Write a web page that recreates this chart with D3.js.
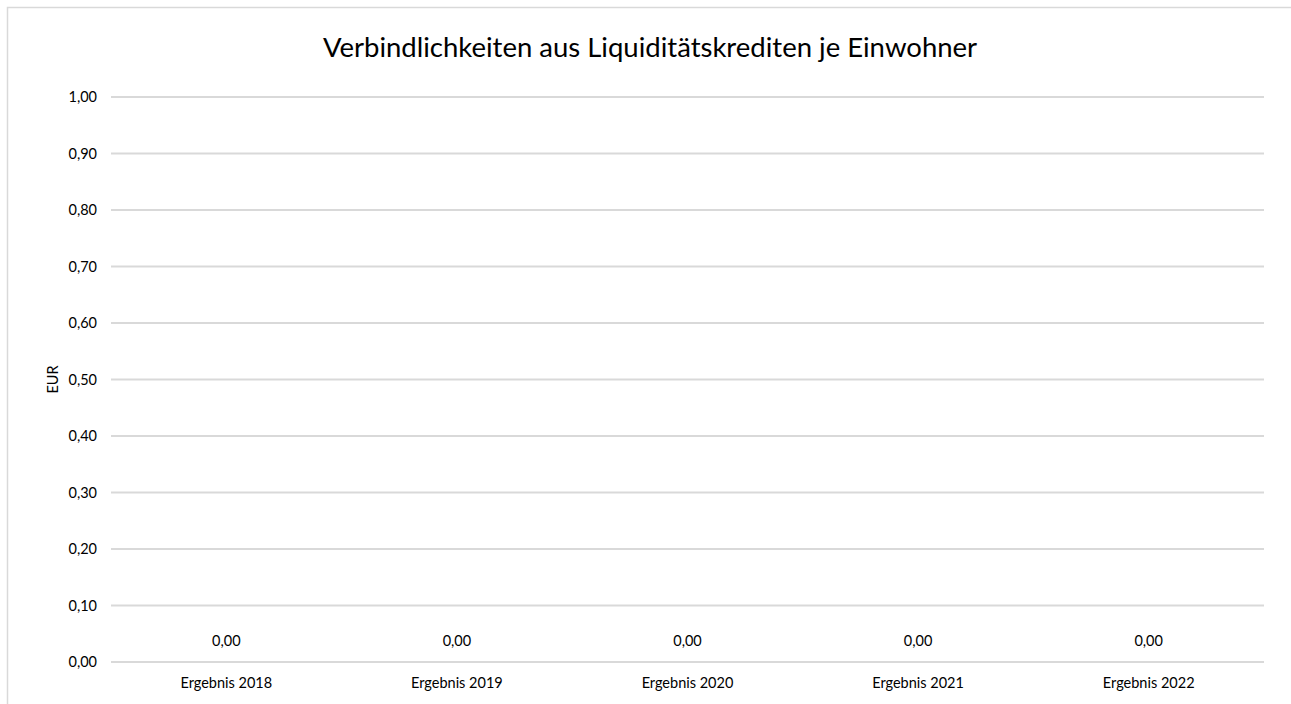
<!DOCTYPE html>
<html lang="de">
<head>
<meta charset="utf-8">
<title>Verbindlichkeiten aus Liquiditätskrediten je Einwohner</title>
<script src="https://d3js.org/d3.v7.min.js"></script>
<style>
    body { margin: 0; background: #fff; }
    svg text { font-family: Lato, "Open Sans", sans-serif; fill: #000; }
    .grid line { stroke: #d9d9d9; stroke-width: 2; }
</style>
</head>
<body>
<script>

// data
const categories = ["Ergebnis 2018", "Ergebnis 2019", "Ergebnis 2020", "Ergebnis 2021", "Ergebnis 2022"];
const values = [0, 0, 0, 0, 0];
const yTicks = [0, 0.1, 0.2, 0.3, 0.4, 0.5, 0.6, 0.7, 0.8, 0.9, 1.0];

const W = 1291, H = 704;
const margin = { top: 97, right: 27, bottom: 42, left: 111 };
const w = W - margin.left - margin.right,
      h = H - margin.top - margin.bottom;

const labelSize = "14.5px";
const fmt = d => d3.format(".2f")(d).replace(".", ",");

let svg = d3.select("body").append("svg")
    .attr("width", W)
    .attr("height", H);

// chart border (runs off the right and bottom edge)
svg.append("rect")
    .attr("x", 7.5).attr("y", 7.5)
    .attr("width", W + 10).attr("height", H + 10)
    .attr("fill", "none")
    .attr("stroke", "#d9d9d9")
    .attr("stroke-width", 1.5);

let g = svg.append("g")
    .attr("transform", "translate(" + margin.left + "," + margin.top + ")");

let xScale = d3.scaleBand()
    .domain(categories)
    .range([0, w]);

let yScale = d3.scaleLinear()
    .domain([0, 1])
    .range([h, 0]);

// gridlines
g.append("g").attr("class", "grid")
    .selectAll("line")
    .data(yTicks)
    .enter().append("line")
    .attr("x1", 0).attr("x2", w)
    .attr("y1", d => yScale(d)).attr("y2", d => yScale(d));

// y axis labels
let yAxis = d3.axisLeft(yScale).tickValues(yTicks).tickFormat(fmt).tickSize(0).tickPadding(14);
g.append("g").call(yAxis)
    .call(s => s.select(".domain").remove())
    .selectAll("text").attr("fill", "#000").style("font-size", labelSize);

// x axis labels
let xAxis = d3.axisBottom(xScale).tickSize(0).tickPadding(16);
g.append("g")
    .attr("transform", "translate(0," + h + ")")
    .call(xAxis)
    .call(s => s.select(".domain").remove())
    .selectAll("text").attr("fill", "#000").style("font-size", labelSize);

// bars (all zero height here)
g.selectAll("rect.bar")
    .data(values)
    .enter().append("rect")
    .attr("class", "bar")
    .attr("x", (d, i) => xScale(categories[i]) + xScale.bandwidth() * 0.2)
    .attr("y", d => yScale(d))
    .attr("width", xScale.bandwidth() * 0.6)
    .attr("height", d => h - yScale(d))
    .attr("fill", "#4472c4");

// value labels
g.selectAll("text.val")
    .data(values)
    .enter().append("text")
    .attr("class", "val")
    .attr("x", (d, i) => xScale(categories[i]) + xScale.bandwidth() / 2)
    .attr("y", d => yScale(d) - 16)
    .attr("text-anchor", "middle")
    .style("font-size", labelSize)
    .text(fmt);

// y axis title
svg.append("text")
    .attr("transform", "translate(58," + (margin.top + h / 2) + ") rotate(-90)")
    .attr("text-anchor", "middle")
    .style("font-size", labelSize)
    .text("EUR");

// chart title
svg.append("text")
    .attr("x", 650).attr("y", 57)
    .attr("text-anchor", "middle")
    .style("font-size", "27.5px")
    .text("Verbindlichkeiten aus Liquiditätskrediten je Einwohner");

</script>
</body>
</html>
